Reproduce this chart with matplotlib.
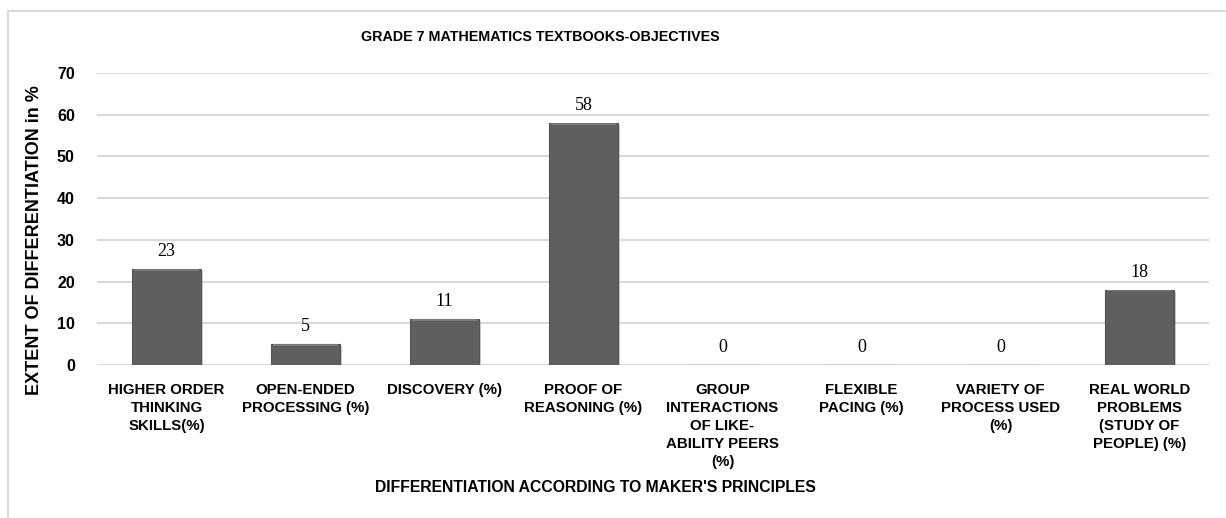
import numpy as np
import matplotlib.pyplot as plt
from matplotlib.patches import Rectangle
import matplotlib.patheffects as pe

categories = [
    "HIGHER ORDER\nTHINKING\nSKILLS(%)",
    "OPEN-ENDED\nPROCESSING (%)",
    "DISCOVERY (%)",
    "PROOF OF\nREASONING (%)",
    "GROUP\nINTERACTIONS\nOF LIKE-\nABILITY PEERS\n(%)",
    "FLEXIBLE\nPACING (%)",
    "VARIETY OF\nPROCESS USED\n(%)",
    "REAL WORLD\nPROBLEMS\n(STUDY OF\nPEOPLE) (%)",
]
values = [23, 5, 11, 58, 0, 0, 0, 18]
yticks = [0, 10, 20, 30, 40, 50, 60, 70]

narrow = ["Liberation Sans Narrow", "Liberation Sans", "DejaVu Sans"]

fig = plt.figure(figsize=(12.26, 5.18), dpi=100)
ax = fig.add_axes([97 / 1226, 1 - 365 / 518, 1112 / 1226, 292 / 518])

# light grey frame round the chart area
fig.add_artist(Rectangle((8 / 1226, -0.05), 1.1, (518 - 11) / 518 + 0.05,
                         transform=fig.transFigure, fill=False,
                         edgecolor="#d9d9d9", linewidth=1.5))

x = np.arange(len(values))
bars = ax.bar(x, values, width=0.49, color="#5f5f5f", edgecolor="#555555",
              linewidth=0.8, zorder=3,
              path_effects=[pe.SimplePatchShadow(offset=(1.5, -1.5), shadow_rgbFace="#a0a0a0", alpha=0.5),
                            pe.Normal()])
# faint bevel along the top of each bar
for b, v in zip(bars, values):
    if v > 0:
        ax.bar(b.get_x() + b.get_width() / 2, 0.35, bottom=v - 0.35, width=b.get_width() * 0.96,
               color="#7a7a7a", linewidth=0, zorder=4)

for xi, v in zip(x, values):
    ax.text(xi, v + 2.2, str(v), ha="center", va="bottom",
            family="Liberation Serif", fontsize=13)

ax.set_xlim(-0.5, len(values) - 0.5)
ax.set_ylim(0, 70)
ax.set_yticks(yticks)
ax.set_yticklabels([str(t) for t in yticks], family="Liberation Sans",
                   fontweight="bold", fontsize=11.5)
ax.set_xticks(x)
ax.set_xticklabels(categories, family="Liberation Sans", fontweight="bold",
                   fontsize=10.8, linespacing=1.36, va="top")
ax.tick_params(axis="both", length=0)
ax.tick_params(axis="x", pad=13)
ax.tick_params(axis="y", pad=16)
ax.grid(axis="y", color="#d9d9d9", linewidth=1.5, zorder=0)
ax.set_axisbelow(True)
for s in ax.spines.values():
    s.set_visible(False)

fig.text(540 / 1226, 1 - 37 / 518, "GRADE 7 MATHEMATICS TEXTBOOKS-OBJECTIVES",
         ha="center", va="center", family=narrow, fontweight="bold", fontsize=10.3)
fig.text(595 / 1226, 1 - 487 / 518, "DIFFERENTIATION ACCORDING TO MAKER'S PRINCIPLES",
         ha="center", va="center", family=narrow, fontweight="bold", fontsize=11.3)
fig.text(35 / 1226, 1 - 240 / 518, "EXTENT OF DIFFERENTIATION in %", rotation=90,
         ha="center", va="center", family=narrow, fontweight="bold", fontsize=13)

fig.savefig("out.png", dpi=100)
